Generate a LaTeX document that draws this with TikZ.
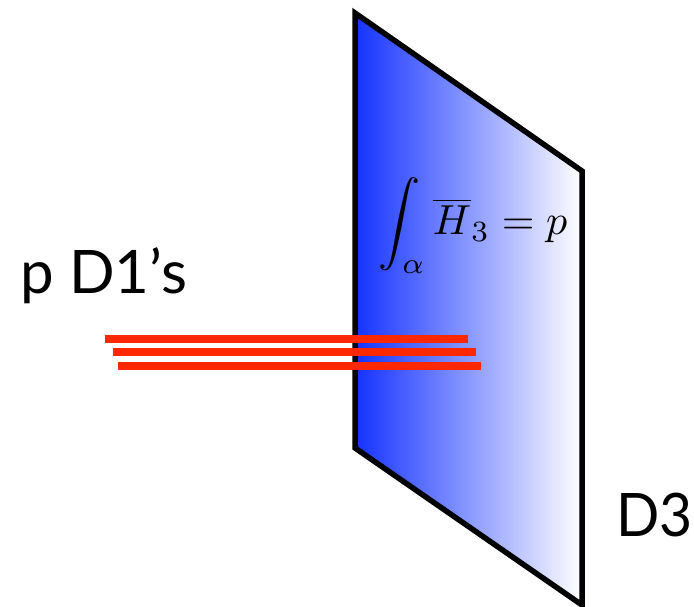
\documentclass[tikz,border=0pt]{standalone}
\usepackage{fontspec}
\setmainfont{Lato}
\tikzset{redline/.style={draw={rgb,255:red,255;green,40;blue,0},line width=8pt},
 lab/.style={inner sep=0pt,anchor=base west,font=\fontsize{60}{60}\selectfont}}
\begin{document}
\begin{tikzpicture}[x=1pt,y=-1pt,line join=miter]
\useasboundingbox (0,0) rectangle (694,607);
\clip (0,0) rectangle (694,607);
\begin{scope}
\clip (355,13) -- (582,171) -- (582,605) -- (355,448) -- cycle;
\shade[left color={rgb,255:red,20;green,50;blue,255},right color=white] (355,0) rectangle (582,607);
\end{scope}
\draw[line width=5.5pt] (355,13) -- (582,171) -- (582,605) -- (355,448) -- cycle;
\coordinate (a1) at (105,339); \coordinate (b1) at (468,339);
\coordinate (a2) at (113,352); \coordinate (b2) at (476,352);
\coordinate (a3) at (118,366); \coordinate (b3) at (481,366);
\draw[redline] (a1) -- (b1);
\draw[redline] (a2) -- (b2);
\draw[redline] (a3) -- (b3);
\node[lab] (p) at (20,293) {p D1’s};
\node[lab,xscale=0.95] (d) at (616,536) {D3};
\node[inner sep=0pt,scale=4.2] (eq) at (473,225.5) {$\displaystyle\int_\alpha \overline{H}_3=p$};
\end{tikzpicture}
\end{document}
